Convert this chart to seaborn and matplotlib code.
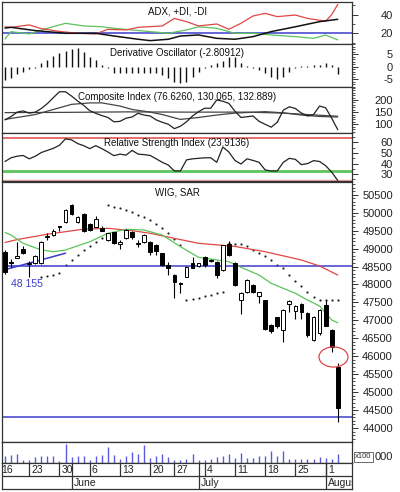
import matplotlib.pyplot as plt
import numpy as np
import seaborn as sns
from matplotlib.patches import Ellipse

sns.set_style("white")
plt.rcParams["font.family"] = ["Liberation Sans", "DejaVu Sans"]

# --- dane: sesje WIG od 17 maja do 3 sierpnia (indeks dnia 0..55) ---
opens = [48900, 48620, 48750, 48990, 48580, 48590, 48600, 49310, 49380, 49620,
         49750, 50210, 49730, 49960, 49680, 49610, 49570, 49240, 49450, 49140,
         49290, 49470, 49140, 49180, 49190, 49100, 48870, 48540, 48270, 48010,
         48220, 48600, 48515, 48770, 48690, 48630, 48410, 49120, 48590, 47570,
         47790, 47990, 47690, 47560, 46860, 47080, 46740, 47450, 47260, 47450,
         47200, 46450, 46640, 47420, 46730, 45710]
highs = [48960, 48700, 49190, 49060, 48650, 48830, 49200, 49420, 49540, 49630,
         50100, 50230, 49900, 49980, 49700, 49910, 49620, 49440, 49470, 49240,
         49540, 49500, 49240, 49400, 49210, 49120, 48890, 48630, 48290, 48070,
         48510, 48770, 48600, 48800, 48720, 48650, 49110, 49220, 48620, 47800,
         48150, 48010, 47800, 47580, 46900, 47100, 47330, 47580, 47420, 47470,
         47220, 47110, 47330, 47570, 46760, 45820]
lows = [48300, 48500, 48730, 48840, 48200, 48560, 48560, 49250, 49350, 49500,
        49720, 49940, 49710, 49460, 49500, 49600, 49480, 49220, 49130, 48980,
        49270, 49280, 49050, 49150, 48820, 48820, 48520, 48260, 47610, 47750,
        48200, 48450, 48480, 48500, 48620, 48170, 48380, 48790, 47960, 47180,
        47760, 47760, 47480, 46720, 46660, 46800, 46400, 47230, 47050, 47040,
        46550, 46420, 46580, 46840, 46120, 44180]
closes = [48350, 48600, 48790, 48870, 48600, 48800, 49180, 49340, 49490, 49590,
          50080, 49960, 49890, 49490, 49520, 49810, 49500, 49420, 49150, 49170,
          49520, 49330, 49160, 49380, 48900, 48930, 48540, 48470, 48060, 48040,
          48490, 48470, 48590, 48540, 48660, 48270, 49100, 48830, 47990, 47760,
          48120, 47790, 47790, 46750, 46690, 46830, 47300, 47540, 47400, 47230,
          46600, 47090, 47300, 46850, 46250, 44550]
volume = [20, 25, 27, 10, 10, 17, 20, 20, 20, 5, 55, 17, 20, 20, 10, 20, 23, 48,
          23, 12, 22, 32, 27, 52, 15, 20, 27, 17, 10, 10, 12, 28, 8, 8, 12, 17,
          20, 27, 14, 29, 14, 14, 20, 22, 34, 22, 34, 12, 12, 12, 12, 12, 17, 14,
          12, 27]

# srednie kroczace na wykresie ceny
ma_long_days = [0, 2, 7, 13, 17, 21, 24, 28, 32, 38, 43, 49, 52, 55]
ma_long = [49170, 49250, 49400, 49540, 49564, 49500, 49425, 49285, 49146, 49060,
           48912, 48681, 48514, 48263]
ma_short_days = [0, 1, 3, 6, 8, 10, 14, 17, 20, 23, 26, 29, 32, 37, 39, 42, 44,
                 48, 50, 52, 54, 55]
ma_short = [49450, 49377, 49146, 48960, 48912, 48960, 49190, 49425, 49536, 49517,
            49377, 49053, 48756, 48634, 48478, 48263, 48032, 47754, 47567, 47400,
            47010, 46935]

# SAR
sar_days = list(range(6, 17)) + list(range(17, 30)) + list(range(30, 37)) + list(range(37, 56))
sar = [48216, 48235, 48263, 48320, 48540, 48690, 48830, 48960, 49080, 49190, 49290,
       50213, 50170, 50120, 50070, 50020, 49940, 49870, 49790, 49680, 49560, 49420,
       49260, 49100,
       47567, 47590, 47620, 47680, 47720, 47760, 47800,
       49150, 49140, 49130, 49060, 48970, 48880, 48780, 48680, 48550, 48450, 48250,
       48100, 47950, 47800, 47640, 47580, 47580, 47560, 47560]

support_level = 48520
low_level = 44310
trend_days = [-0.5, 10]
trend_prices = [48390, 48870]
trend_label = "48 155"
gap_day, gap_price = 54.3, 45980

# ADX, +DI, -DI
plus_di_days = [0, 1, 4, 6, 9, 12, 15, 17, 20, 22, 26, 28, 30, 32, 35, 37, 39, 41,
                43, 45, 48, 50, 53, 54, 55]
plus_di = [27, 26.4, 29, 25, 22, 20, 19.3, 24.3, 23.6, 26.4, 27.9, 36, 32.5, 27.9,
           30, 24.3, 30.7, 38.6, 41.4, 37.9, 39.6, 36, 33, 40, 51]
minus_di_days = [0, 1, 4, 7, 10, 13, 16, 18, 21, 24, 27, 30, 32, 35, 38, 41, 44, 48,
                 51, 53, 55]
minus_di = [14, 21.8, 19.3, 25.4, 30.7, 27.9, 27, 25.4, 23.6, 21.8, 20, 23.6, 27,
            25.4, 20, 20, 18.2, 16.4, 14.6, 18.2, 12.9]
adx_days = [0, 1, 5, 10, 15, 18, 22, 24, 27, 29, 32, 35, 38, 41, 44, 48, 52, 55]
adx = [25.6, 26.4, 22.9, 20, 20, 17.1, 13.6, 12.1, 13.6, 17.1, 18.2, 14.6, 13.6,
       16.4, 21.8, 27, 32.5, 35]
adx_level = 20.5

# Derivative Oscillator
deriv = [-5.3, -4.7, -2.9, -2.0, -1.1, -0.4, 1.6, 2.7, 4.3, 5.3, 6.4, 6.9, 7.3, 6.0,
         3.7, 2.7, 0.7, -0.7, -2.4, -2.4, -2.4, -2.6, -2.4, -2.6, -2.4, -2.6, -3.3,
         -4.7, -6.0, -6.7, -6.0, -4.0, -2.0, -0.7, 0.7, 1.3, 2.4, 3.7, 3.7, 1.6, 0.3,
         -0.7, -1.3, -2.4, -4.3, -5.1, -4.3, -2.0, -0.7, 0.3, 0.4, 0.5, 0.7, 1.3,
         0.7, -2.8]

# Composite Index i dwie srednie
composite = [118, 132, 150, 155, 146, 150, 165, 185, 210, 234, 234, 216, 196, 178,
             156, 145, 136, 128, 110, 112, 125, 130, 145, 138, 134, 118, 108, 100,
             82, 92, 110, 134, 152, 166, 166, 200, 195, 186, 154, 128, 131, 134,
             112, 100, 88, 108, 158, 172, 165, 146, 134, 140, 175, 168, 125, 78]
comp_fast_days = [0, 5, 8, 11, 14, 16, 19, 21, 24, 26, 29, 32, 35, 38, 43, 46, 49,
                  52, 55]
comp_fast = [120, 140, 161, 182, 188, 188, 175, 161, 150, 140, 120, 128, 138, 146,
             152, 147, 138, 132, 130]
comp_slow_days = [0, 10, 20, 30, 40, 46, 50, 55]
comp_slow = [148, 149, 151, 150, 150, 146, 140, 133]

# RSI
rsi = [42, 45.5, 47, 47.7, 44.5, 47, 50.5, 52.5, 54.5, 57.4, 63.5, 62.5, 59, 57,
       54.2, 57, 54.2, 51, 47.5, 49, 48, 52.5, 49, 48.5, 47.7, 44.5, 41.2, 38.6,
       33, 33, 43.5, 44.5, 45, 45.5, 45.5, 41.2, 55.7, 51, 43, 39.6, 44.5, 43,
       41.2, 34, 33, 33, 41.2, 45, 44, 39, 40, 42.8, 42, 38, 32, 24]
rsi_upper, rsi_lower = 64, 33

day_ticks = [-1, 4, 9, 14, 19, 24, 28, 33, 38, 43, 48, 53]
day_labels = ["16", "23", "30", "6", "13", "20", "27", "4", "11", "18", "25", "1"]
month_starts = [11, 32, 53]
month_labels = ["June", "July", "August"]

# --- wyglad ---
W, H = 400, 492
XLIM = (-0.5, 57.36)
EDGE = "#333333"
RED = "#e04646"
GREEN = "#5cc45c"
BLUE = "#3c3ccc"

fig = plt.figure(figsize=(W / 100, H / 100), dpi=100)
days = np.arange(len(closes))


def px_axes(top, bottom):
    ax = fig.add_axes([2 / W, 1 - bottom / H, 350 / W, (bottom - top) / H])
    ax.set_xlim(XLIM)
    ax.set_xticks([])
    for s in ax.spines.values():
        s.set_color(EDGE)
        s.set_linewidth(0.9)
    return ax


def right_axis(ax, major, minor, ylim):
    ax.set_ylim(ylim)
    ax.yaxis.tick_right()
    ax.set_yticks(major)
    ax.set_yticks(minor, minor=True)
    ax.set_yticklabels([str(v) for v in major])
    ax.tick_params(axis="y", which="major", right=True, direction="out", length=4,
                   width=0.7, pad=25.5, labelsize=8, colors=EDGE)
    ax.tick_params(axis="y", which="minor", right=True, direction="out", length=2,
                   width=0.6, colors=EDGE)
    for lbl in ax.get_yticklabels():
        lbl.set_horizontalalignment("right")
        lbl.set_color("#222222")


def title(ax, text, y):
    ax.text(0.5, y, text, transform=ax.transAxes, ha="center", va="center",
            fontsize=7, color="#111111", zorder=6)


# ADX
ax1 = px_axes(2, 44)
ax1.axhline(adx_level, color=BLUE, lw=1.1)
sns.lineplot(x=minus_di_days, y=minus_di, ax=ax1, color=GREEN, lw=0.9)
sns.lineplot(x=plus_di_days, y=plus_di, ax=ax1, color=RED, lw=0.9)
sns.lineplot(x=adx_days, y=adx, ax=ax1, color="#111111", lw=1.1)
right_axis(ax1, [20, 40], [10, 30, 50], (8.5, 53.6))
title(ax1, "ADX, +DI, -DI", 0.77)

# Derivative Oscillator
ax2 = px_axes(44, 87)
ax2.vlines(days, 0, deriv, color="#111111", lw=1.0)
right_axis(ax2, [-5, 0, 5], list(range(-8, 10)), (-8.1, 9.1))
title(ax2, "Derivative Oscillator (-2.80912)", 0.79)

# Composite Index
ax3 = px_axes(87, 133)
sns.lineplot(x=comp_slow_days, y=comp_slow, ax=ax3, color="#444444", lw=0.9)
sns.lineplot(x=comp_fast_days, y=comp_fast, ax=ax3, color="#444444", lw=0.9)
sns.lineplot(x=days, y=composite, ax=ax3, color="#222222", lw=0.9)
right_axis(ax3, [100, 150, 200], list(range(70, 260, 10)), (64, 253.5))
title(ax3, "Composite Index (76.6260, 130.065, 132.889)", 0.79)

# RSI
ax4 = px_axes(133, 181)
ax4.axhline(rsi_upper, color=RED, lw=1.1)
ax4.axhline(rsi_lower, color=GREEN, lw=2.0)
ax4.axhline(24.2, color="#f0a8a8", lw=1.0)
sns.lineplot(x=days, y=rsi, ax=ax4, color="#222222", lw=0.9)
right_axis(ax4, [30, 40, 50, 60], list(range(25, 70, 5)), (23.5, 69))
title(ax4, "Relative Strength Index (23.9136)", 0.79)

# Cena: WIG, SAR
ax5 = px_axes(182, 442)
ax5.axhline(support_level, color=BLUE, lw=1.1, zorder=2)
ax5.axhline(low_level, color=BLUE, lw=1.1, zorder=2)
sns.lineplot(x=trend_days, y=trend_prices, ax=ax5, color=BLUE, lw=1.1)
sns.lineplot(x=ma_long_days, y=ma_long, ax=ax5, color=RED, lw=0.9)
sns.lineplot(x=ma_short_days, y=ma_short, ax=ax5, color=GREEN, lw=0.9)
sns.scatterplot(x=sar_days, y=sar, ax=ax5, color="#222222", s=2.5, linewidth=0,
                legend=False)

o = np.array(opens)
c = np.array(closes)
body_lo = np.minimum(o, c)
body_h = np.maximum(np.abs(c - o), 20)
ax5.vlines(days, lows, highs, color="black", lw=0.8, zorder=3)
ax5.bar(days, body_h, bottom=body_lo, width=0.62,
        color=np.where(c >= o, "white", "black"), edgecolor="black",
        linewidth=0.7, zorder=4)

ax5.add_patch(Ellipse((gap_day, gap_price), 4.8, 560, fill=False, edgecolor=RED,
                      lw=0.9, zorder=5))
ax5.text(1.0, 48000, trend_label, color=BLUE, fontsize=7.5, va="center", ha="left")
right_axis(ax5, list(range(44000, 50501, 500)), list(range(43700, 50900, 100)),
           (43612, 50854))
title(ax5, "WIG, SAR", 0.958)

# Wolumen
ax6 = px_axes(442, 463)
ax6.vlines(days, 0, volume, color="#5a5ae0", lw=1.0)
ax6.set_ylim(0, 62)
ax6.set_yticks([])
fig.text(393 / W, 1 - 457 / H, "000", fontsize=8, ha="right", va="center",
         color="#222222")
fig.text(355 / W, 1 - 457 / H, "x100", fontsize=5.5, ha="left", va="center",
         bbox=dict(boxstyle="square,pad=0.15", facecolor="white", edgecolor=EDGE,
                   lw=0.5))

# Os dat
ax7 = px_axes(463, 489)
ax7.set_ylim(0, 2)
ax7.set_yticks([])
ax7.axhline(1, color=EDGE, lw=0.9)
ax7.vlines(day_ticks, 1, 2, color=EDGE, lw=0.9)
ax7.vlines(month_starts, 0, 2, color=EDGE, lw=0.9)
for d, lab in zip(day_ticks, day_labels):
    ax7.text(d + 0.35, 1.45, lab, ha="left", va="center", fontsize=7.5,
             color="#222222")
for d, lab in zip(month_starts, month_labels):
    ax7.text(d + 0.35, 0.45, lab, ha="left", va="center", fontsize=7.5,
             color="#222222", clip_on=True)

fig.savefig("out.png", dpi=100, facecolor="white")
